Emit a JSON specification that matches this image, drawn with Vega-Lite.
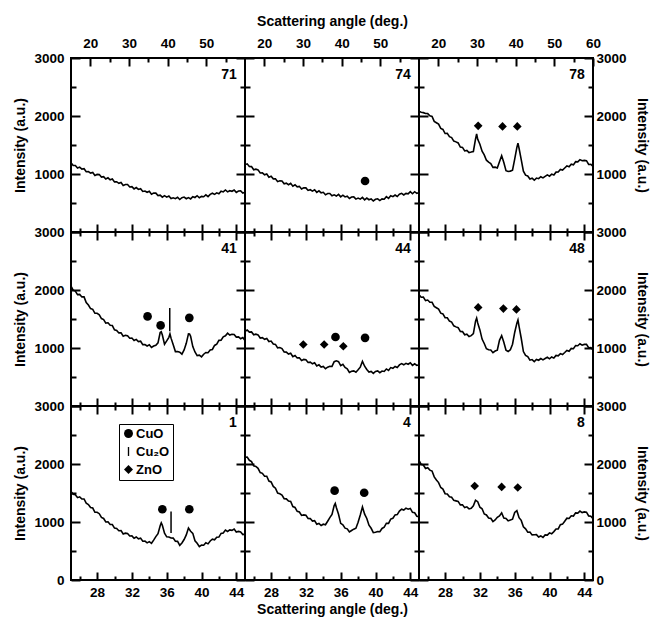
{
"$schema": "https://vega.github.io/schema/vega-lite/v6.json",
"padding": {"left": 12, "top": 13, "right": 0, "bottom": 0},
"config": {
  "font": "Liberation Sans",
  "view": {"stroke": "black", "strokeWidth": 2},
  "axis": {"domain": false, "grid": false, "tickColor": "black", "tickWidth": 2, "labelColor": "black", "labelFont": "Liberation Sans", "labelFontSize": 13.5, "labelFontWeight": "bold", "titleColor": "black", "titleFont": "Liberation Sans", "titleFontSize": 14, "titleFontWeight": "bold", "labelFlush": false, "labelOverlap": false, "minExtent": 0},
  "text": {"font": "Liberation Sans"}
},
"datasets": {
"c71": [{"a":25,"i":1193},{"a":25.25,"i":1146},{"a":25.5,"i":1146},{"a":25.75,"i":1102},{"a":26,"i":1119},{"a":26.25,"i":1084},{"a":26.5,"i":1092},{"a":26.75,"i":1039},{"a":27,"i":1042},{"a":27.25,"i":1015},{"a":27.5,"i":1026},{"a":27.75,"i":976},{"a":28,"i":993},{"a":28.25,"i":990},{"a":28.5,"i":948},{"a":28.75,"i":954},{"a":29,"i":915},{"a":29.25,"i":934},{"a":29.5,"i":901},{"a":29.75,"i":914},{"a":30,"i":864},{"a":30.25,"i":867},{"a":30.5,"i":840},{"a":30.75,"i":854},{"a":31,"i":803},{"a":31.25,"i":820},{"a":31.5,"i":818},{"a":31.75,"i":776},{"a":32,"i":781},{"a":32.25,"i":743},{"a":32.5,"i":766},{"a":32.75,"i":734},{"a":33,"i":747},{"a":33.25,"i":699},{"a":33.5,"i":707},{"a":33.75,"i":685},{"a":34,"i":701},{"a":34.25,"i":653},{"a":34.5,"i":673},{"a":34.75,"i":670},{"a":35,"i":628},{"a":35.25,"i":636},{"a":35.5,"i":600},{"a":35.75,"i":626},{"a":36,"i":601},{"a":36.25,"i":620},{"a":36.5,"i":576},{"a":36.75,"i":590},{"a":37,"i":575},{"a":37.25,"i":599},{"a":37.5,"i":560},{"a":37.75,"i":591},{"a":38,"i":602},{"a":38.25,"i":574},{"a":38.5,"i":594},{"a":38.75,"i":571},{"a":39,"i":609},{"a":39.25,"i":595},{"a":39.5,"i":625},{"a":39.75,"i":591},{"a":40,"i":614},{"a":40.25,"i":608},{"a":40.5,"i":640},{"a":40.75,"i":610},{"a":41,"i":648},{"a":41.25,"i":668},{"a":41.5,"i":648},{"a":41.75,"i":676},{"a":42,"i":660},{"a":42.25,"i":702},{"a":42.5,"i":691},{"a":42.75,"i":724},{"a":43,"i":692},{"a":43.25,"i":712},{"a":43.5,"i":702},{"a":43.75,"i":724},{"a":44,"i":683},{"a":44.25,"i":706},{"a":44.5,"i":708},{"a":44.75,"i":673},{"a":45,"i":686}],
"c74": [{"a":25,"i":1161},{"a":25.25,"i":1175},{"a":25.5,"i":1129},{"a":25.75,"i":1127},{"a":26,"i":1073},{"a":26.25,"i":1083},{"a":26.5,"i":1071},{"a":26.75,"i":1017},{"a":27,"i":1019},{"a":27.25,"i":985},{"a":27.5,"i":999},{"a":27.75,"i":944},{"a":28,"i":960},{"a":28.25,"i":916},{"a":28.5,"i":917},{"a":28.75,"i":868},{"a":29,"i":883},{"a":29.25,"i":878},{"a":29.5,"i":832},{"a":29.75,"i":842},{"a":30,"i":815},{"a":30.25,"i":839},{"a":30.5,"i":791},{"a":30.75,"i":815},{"a":31,"i":779},{"a":31.25,"i":787},{"a":31.5,"i":743},{"a":31.75,"i":763},{"a":32,"i":761},{"a":32.25,"i":717},{"a":32.5,"i":729},{"a":32.75,"i":705},{"a":33,"i":729},{"a":33.25,"i":684},{"a":33.5,"i":710},{"a":33.75,"i":675},{"a":34,"i":684},{"a":34.25,"i":641},{"a":34.5,"i":663},{"a":34.75,"i":664},{"a":35,"i":624},{"a":35.25,"i":640},{"a":35.5,"i":620},{"a":35.75,"i":649},{"a":36,"i":606},{"a":36.25,"i":635},{"a":36.5,"i":604},{"a":36.75,"i":617},{"a":37,"i":578},{"a":37.25,"i":603},{"a":37.5,"i":606},{"a":37.75,"i":567},{"a":38,"i":584},{"a":38.25,"i":566},{"a":38.5,"i":596},{"a":38.75,"i":554},{"a":39,"i":585},{"a":39.25,"i":556},{"a":39.5,"i":572},{"a":39.75,"i":535},{"a":40,"i":563},{"a":40.25,"i":573},{"a":40.5,"i":542},{"a":40.75,"i":571},{"a":41,"i":565},{"a":41.25,"i":609},{"a":41.5,"i":581},{"a":41.75,"i":625},{"a":42,"i":609},{"a":42.25,"i":637},{"a":42.5,"i":613},{"a":42.75,"i":650},{"a":43,"i":666},{"a":43.25,"i":638},{"a":43.5,"i":666},{"a":43.75,"i":657},{"a":44,"i":696},{"a":44.25,"i":660},{"a":44.5,"i":695},{"a":44.75,"i":666},{"a":45,"i":682}],
"c78": [{"a":25,"i":2080},{"a":25.25,"i":2065},{"a":25.5,"i":2058},{"a":25.75,"i":2043},{"a":26,"i":2042},{"a":26.25,"i":2004},{"a":26.5,"i":1993},{"a":26.75,"i":1908},{"a":27,"i":1884},{"a":27.25,"i":1860},{"a":27.5,"i":1785},{"a":27.75,"i":1768},{"a":28,"i":1698},{"a":28.25,"i":1702},{"a":28.5,"i":1644},{"a":28.75,"i":1628},{"a":29,"i":1568},{"a":29.25,"i":1554},{"a":29.5,"i":1535},{"a":29.75,"i":1465},{"a":30,"i":1458},{"a":30.25,"i":1398},{"a":30.5,"i":1407},{"a":30.75,"i":1369},{"a":31,"i":1378},{"a":31.25,"i":1388},{"a":31.5,"i":1604},{"a":31.625,"i":1690},{"a":31.75,"i":1598},{"a":32,"i":1512},{"a":32.25,"i":1394},{"a":32.5,"i":1328},{"a":32.75,"i":1238},{"a":33,"i":1204},{"a":33.25,"i":1180},{"a":33.5,"i":1115},{"a":33.75,"i":1118},{"a":34,"i":1103},{"a":34.25,"i":1212},{"a":34.5,"i":1314},{"a":34.75,"i":1198},{"a":35,"i":1058},{"a":35.25,"i":1044},{"a":35.5,"i":1050},{"a":35.75,"i":1065},{"a":36,"i":1258},{"a":36.25,"i":1458},{"a":36.375,"i":1532},{"a":36.5,"i":1444},{"a":36.75,"i":1248},{"a":37,"i":1048},{"a":37.25,"i":979},{"a":37.5,"i":965},{"a":37.75,"i":915},{"a":38,"i":928},{"a":38.25,"i":893},{"a":38.5,"i":930},{"a":38.75,"i":919},{"a":39,"i":953},{"a":39.25,"i":933},{"a":39.5,"i":959},{"a":39.75,"i":985},{"a":40,"i":963},{"a":40.25,"i":998},{"a":40.5,"i":983},{"a":40.75,"i":1032},{"a":41,"i":1034},{"a":41.25,"i":1078},{"a":41.5,"i":1068},{"a":41.75,"i":1104},{"a":42,"i":1140},{"a":42.25,"i":1125},{"a":42.5,"i":1168},{"a":42.75,"i":1158},{"a":43,"i":1212},{"a":43.25,"i":1209},{"a":43.5,"i":1248},{"a":43.75,"i":1228},{"a":44,"i":1234},{"a":44.25,"i":1230},{"a":44.5,"i":1165},{"a":44.75,"i":1168},{"a":45,"i":1128}],
"c41": [{"a":25,"i":2068},{"a":25.25,"i":1998},{"a":25.5,"i":1981},{"a":25.75,"i":1920},{"a":26,"i":1924},{"a":26.25,"i":1881},{"a":26.5,"i":1882},{"a":26.75,"i":1784},{"a":27,"i":1742},{"a":27.25,"i":1680},{"a":27.5,"i":1666},{"a":27.75,"i":1598},{"a":28,"i":1598},{"a":28.25,"i":1573},{"a":28.5,"i":1508},{"a":28.75,"i":1491},{"a":29,"i":1430},{"a":29.25,"i":1434},{"a":29.5,"i":1391},{"a":29.75,"i":1387},{"a":30,"i":1314},{"a":30.25,"i":1302},{"a":30.5,"i":1260},{"a":30.75,"i":1261},{"a":31,"i":1203},{"a":31.25,"i":1218},{"a":31.5,"i":1213},{"a":31.75,"i":1168},{"a":32,"i":1171},{"a":32.25,"i":1130},{"a":32.5,"i":1149},{"a":32.75,"i":1111},{"a":33,"i":1117},{"a":33.25,"i":1059},{"a":33.5,"i":1060},{"a":33.75,"i":1035},{"a":34,"i":1054},{"a":34.25,"i":1008},{"a":34.5,"i":1033},{"a":34.75,"i":1048},{"a":35,"i":1088},{"a":35.25,"i":1266},{"a":35.375,"i":1280},{"a":35.5,"i":1224},{"a":35.75,"i":1066},{"a":36,"i":1122},{"a":36.25,"i":1184},{"a":36.375,"i":1242},{"a":36.5,"i":1170},{"a":36.75,"i":1056},{"a":37,"i":938},{"a":37.25,"i":938},{"a":37.5,"i":928},{"a":37.75,"i":893},{"a":38,"i":966},{"a":38.25,"i":1080},{"a":38.5,"i":1244},{"a":38.625,"i":1241},{"a":38.75,"i":1202},{"a":39,"i":1024},{"a":39.25,"i":932},{"a":39.5,"i":870},{"a":39.75,"i":876},{"a":40,"i":848},{"a":40.25,"i":893},{"a":40.5,"i":923},{"a":40.75,"i":918},{"a":41,"i":966},{"a":41.25,"i":975},{"a":41.5,"i":1044},{"a":41.75,"i":1066},{"a":42,"i":1132},{"a":42.25,"i":1134},{"a":42.5,"i":1192},{"a":42.75,"i":1210},{"a":43,"i":1256},{"a":43.25,"i":1223},{"a":43.5,"i":1238},{"a":43.75,"i":1233},{"a":44,"i":1188},{"a":44.25,"i":1191},{"a":44.5,"i":1160},{"a":44.75,"i":1182},{"a":45,"i":1128}],
"c44": [{"a":25,"i":1286},{"a":25.25,"i":1310},{"a":25.5,"i":1274},{"a":25.75,"i":1277},{"a":26,"i":1228},{"a":26.25,"i":1238},{"a":26.5,"i":1226},{"a":26.75,"i":1172},{"a":27,"i":1179},{"a":27.25,"i":1150},{"a":27.5,"i":1164},{"a":27.75,"i":1111},{"a":28,"i":1120},{"a":28.25,"i":1069},{"a":28.5,"i":1062},{"a":28.75,"i":1003},{"a":29,"i":1008},{"a":29.25,"i":991},{"a":29.5,"i":932},{"a":29.75,"i":929},{"a":30,"i":895},{"a":30.25,"i":909},{"a":30.5,"i":851},{"a":30.75,"i":870},{"a":31,"i":829},{"a":31.25,"i":832},{"a":31.5,"i":783},{"a":31.75,"i":803},{"a":32,"i":798},{"a":32.25,"i":750},{"a":32.5,"i":756},{"a":32.75,"i":728},{"a":33,"i":746},{"a":33.25,"i":691},{"a":33.5,"i":710},{"a":33.75,"i":672},{"a":34,"i":682},{"a":34.25,"i":643},{"a":34.5,"i":670},{"a":34.75,"i":686},{"a":35,"i":682},{"a":35.25,"i":764},{"a":35.5,"i":780},{"a":35.75,"i":764},{"a":36,"i":696},{"a":36.25,"i":720},{"a":36.5,"i":664},{"a":36.75,"i":642},{"a":37,"i":578},{"a":37.25,"i":598},{"a":37.5,"i":606},{"a":37.75,"i":582},{"a":38,"i":624},{"a":38.25,"i":670},{"a":38.5,"i":770},{"a":38.75,"i":686},{"a":39,"i":630},{"a":39.25,"i":584},{"a":39.5,"i":597},{"a":39.75,"i":563},{"a":40,"i":596},{"a":40.25,"i":606},{"a":40.5,"i":574},{"a":40.75,"i":602},{"a":41,"i":595},{"a":41.25,"i":639},{"a":41.5,"i":614},{"a":41.75,"i":662},{"a":42,"i":650},{"a":42.25,"i":682},{"a":42.5,"i":663},{"a":42.75,"i":708},{"a":43,"i":731},{"a":43.25,"i":710},{"a":43.5,"i":736},{"a":43.75,"i":720},{"a":44,"i":746},{"a":44.25,"i":701},{"a":44.5,"i":728},{"a":44.75,"i":699},{"a":45,"i":712}],
"c48": [{"a":25,"i":1920},{"a":25.25,"i":1875},{"a":25.5,"i":1878},{"a":25.75,"i":1818},{"a":26,"i":1827},{"a":26.25,"i":1789},{"a":26.5,"i":1788},{"a":26.75,"i":1718},{"a":27,"i":1694},{"a":27.25,"i":1670},{"a":27.5,"i":1600},{"a":27.75,"i":1588},{"a":28,"i":1523},{"a":28.25,"i":1522},{"a":28.5,"i":1464},{"a":28.75,"i":1448},{"a":29,"i":1383},{"a":29.25,"i":1364},{"a":29.5,"i":1350},{"a":29.75,"i":1285},{"a":30,"i":1283},{"a":30.25,"i":1228},{"a":30.5,"i":1237},{"a":30.75,"i":1199},{"a":31,"i":1213},{"a":31.25,"i":1248},{"a":31.5,"i":1464},{"a":31.625,"i":1515},{"a":31.75,"i":1432},{"a":32,"i":1312},{"a":32.25,"i":1154},{"a":32.5,"i":1078},{"a":32.75,"i":988},{"a":33,"i":969},{"a":33.25,"i":965},{"a":33.5,"i":920},{"a":33.75,"i":948},{"a":34,"i":963},{"a":34.25,"i":1132},{"a":34.5,"i":1214},{"a":34.75,"i":1098},{"a":35,"i":963},{"a":35.25,"i":939},{"a":35.5,"i":970},{"a":35.75,"i":1065},{"a":36,"i":1268},{"a":36.25,"i":1428},{"a":36.375,"i":1482},{"a":36.5,"i":1374},{"a":36.75,"i":1168},{"a":37,"i":938},{"a":37.25,"i":874},{"a":37.5,"i":850},{"a":37.75,"i":790},{"a":38,"i":800},{"a":38.25,"i":766},{"a":38.5,"i":802},{"a":38.75,"i":789},{"a":39,"i":818},{"a":39.25,"i":796},{"a":39.5,"i":819},{"a":39.75,"i":840},{"a":40,"i":813},{"a":40.25,"i":846},{"a":40.5,"i":826},{"a":40.75,"i":872},{"a":41,"i":866},{"a":41.25,"i":903},{"a":41.5,"i":888},{"a":41.75,"i":922},{"a":42,"i":958},{"a":42.25,"i":945},{"a":42.5,"i":993},{"a":42.75,"i":988},{"a":43,"i":1042},{"a":43.25,"i":1039},{"a":43.5,"i":1073},{"a":43.75,"i":1048},{"a":44,"i":1062},{"a":44.25,"i":1065},{"a":44.5,"i":1005},{"a":44.75,"i":1008},{"a":45,"i":968}],
"c1": [{"a":25,"i":1528},{"a":25.25,"i":1478},{"a":25.5,"i":1471},{"a":25.75,"i":1420},{"a":26,"i":1434},{"a":26.25,"i":1396},{"a":26.5,"i":1397},{"a":26.75,"i":1324},{"a":27,"i":1302},{"a":27.25,"i":1250},{"a":27.5,"i":1241},{"a":27.75,"i":1168},{"a":28,"i":1168},{"a":28.25,"i":1143},{"a":28.5,"i":1078},{"a":28.75,"i":1061},{"a":29,"i":1000},{"a":29.25,"i":1004},{"a":29.5,"i":956},{"a":29.75,"i":957},{"a":30,"i":894},{"a":30.25,"i":887},{"a":30.5,"i":850},{"a":30.75,"i":851},{"a":31,"i":793},{"a":31.25,"i":808},{"a":31.5,"i":803},{"a":31.75,"i":758},{"a":32,"i":761},{"a":32.25,"i":720},{"a":32.5,"i":742},{"a":32.75,"i":711},{"a":33,"i":722},{"a":33.25,"i":669},{"a":33.5,"i":670},{"a":33.75,"i":640},{"a":34,"i":661},{"a":34.25,"i":633},{"a":34.5,"i":688},{"a":34.75,"i":748},{"a":35,"i":798},{"a":35.25,"i":936},{"a":35.375,"i":985},{"a":35.5,"i":944},{"a":35.75,"i":806},{"a":36,"i":744},{"a":36.25,"i":742},{"a":36.5,"i":724},{"a":36.75,"i":722},{"a":37,"i":670},{"a":37.25,"i":666},{"a":37.5,"i":598},{"a":37.75,"i":638},{"a":38,"i":698},{"a":38.25,"i":778},{"a":38.5,"i":896},{"a":38.75,"i":840},{"a":39,"i":804},{"a":39.25,"i":676},{"a":39.5,"i":632},{"a":39.75,"i":574},{"a":40,"i":602},{"a":40.25,"i":600},{"a":40.5,"i":641},{"a":40.75,"i":623},{"a":41,"i":673},{"a":41.25,"i":703},{"a":41.5,"i":693},{"a":41.75,"i":736},{"a":42,"i":740},{"a":42.25,"i":804},{"a":42.5,"i":811},{"a":42.75,"i":860},{"a":43,"i":836},{"a":43.25,"i":864},{"a":43.5,"i":856},{"a":43.75,"i":878},{"a":44,"i":828},{"a":44.25,"i":838},{"a":44.5,"i":828},{"a":44.75,"i":783},{"a":45,"i":791}],
"c4": [{"a":25,"i":2116},{"a":25.25,"i":2120},{"a":25.5,"i":2064},{"a":25.75,"i":2042},{"a":26,"i":1968},{"a":26.25,"i":1958},{"a":26.5,"i":1926},{"a":26.75,"i":1852},{"a":27,"i":1839},{"a":27.25,"i":1790},{"a":27.5,"i":1789},{"a":27.75,"i":1706},{"a":28,"i":1690},{"a":28.25,"i":1614},{"a":28.5,"i":1582},{"a":28.75,"i":1498},{"a":29,"i":1488},{"a":29.25,"i":1466},{"a":29.5,"i":1402},{"a":29.75,"i":1399},{"a":30,"i":1360},{"a":30.25,"i":1354},{"a":30.5,"i":1266},{"a":30.75,"i":1250},{"a":31,"i":1184},{"a":31.25,"i":1172},{"a":31.5,"i":1113},{"a":31.75,"i":1123},{"a":32,"i":1116},{"a":32.25,"i":1062},{"a":32.5,"i":1059},{"a":32.75,"i":1015},{"a":33,"i":1024},{"a":33.25,"i":961},{"a":33.5,"i":975},{"a":33.75,"i":939},{"a":34,"i":962},{"a":34.25,"i":953},{"a":34.5,"i":1013},{"a":34.75,"i":1076},{"a":35,"i":1132},{"a":35.25,"i":1284},{"a":35.375,"i":1320},{"a":35.5,"i":1250},{"a":35.75,"i":1134},{"a":36,"i":976},{"a":36.25,"i":950},{"a":36.5,"i":894},{"a":36.75,"i":882},{"a":37,"i":828},{"a":37.25,"i":853},{"a":37.5,"i":876},{"a":37.75,"i":892},{"a":38,"i":994},{"a":38.25,"i":1120},{"a":38.5,"i":1260},{"a":38.75,"i":1136},{"a":39,"i":1060},{"a":39.25,"i":944},{"a":39.5,"i":892},{"a":39.75,"i":818},{"a":40,"i":823},{"a":40.25,"i":836},{"a":40.5,"i":832},{"a":40.75,"i":889},{"a":41,"i":910},{"a":41.25,"i":979},{"a":41.5,"i":976},{"a":41.75,"i":1050},{"a":42,"i":1064},{"a":42.25,"i":1122},{"a":42.5,"i":1128},{"a":42.75,"i":1188},{"a":43,"i":1221},{"a":43.25,"i":1207},{"a":43.5,"i":1239},{"a":43.75,"i":1220},{"a":44,"i":1234},{"a":44.25,"i":1166},{"a":44.5,"i":1160},{"a":44.75,"i":1099},{"a":45,"i":1092}],
"c8": [{"a":25,"i":2060},{"a":25.25,"i":1995},{"a":25.5,"i":1983},{"a":25.75,"i":1923},{"a":26,"i":1937},{"a":26.25,"i":1894},{"a":26.5,"i":1878},{"a":26.75,"i":1778},{"a":27,"i":1724},{"a":27.25,"i":1680},{"a":27.5,"i":1595},{"a":27.75,"i":1568},{"a":28,"i":1488},{"a":28.25,"i":1482},{"a":28.5,"i":1434},{"a":28.75,"i":1428},{"a":29,"i":1373},{"a":29.25,"i":1364},{"a":29.5,"i":1355},{"a":29.75,"i":1295},{"a":30,"i":1298},{"a":30.25,"i":1248},{"a":30.5,"i":1262},{"a":30.75,"i":1226},{"a":31,"i":1238},{"a":31.25,"i":1278},{"a":31.5,"i":1374},{"a":31.75,"i":1350},{"a":32,"i":1255},{"a":32.25,"i":1228},{"a":32.5,"i":1138},{"a":32.75,"i":1122},{"a":33,"i":1069},{"a":33.25,"i":1063},{"a":33.5,"i":1008},{"a":33.75,"i":1034},{"a":34,"i":1080},{"a":34.25,"i":1105},{"a":34.5,"i":1158},{"a":34.75,"i":1068},{"a":35,"i":1062},{"a":35.25,"i":1019},{"a":35.5,"i":1033},{"a":35.75,"i":1048},{"a":36,"i":1164},{"a":36.25,"i":1195},{"a":36.5,"i":1075},{"a":36.75,"i":1028},{"a":37,"i":918},{"a":37.25,"i":882},{"a":37.5,"i":824},{"a":37.75,"i":828},{"a":38,"i":778},{"a":38.25,"i":779},{"a":38.5,"i":782},{"a":38.75,"i":740},{"a":39,"i":760},{"a":39.25,"i":733},{"a":39.5,"i":777},{"a":39.75,"i":774},{"a":40,"i":813},{"a":40.25,"i":798},{"a":40.5,"i":834},{"a":40.75,"i":880},{"a":41,"i":880},{"a":41.25,"i":953},{"a":41.5,"i":963},{"a":41.75,"i":1014},{"a":42,"i":1065},{"a":42.25,"i":1060},{"a":42.5,"i":1108},{"a":42.75,"i":1103},{"a":43,"i":1157},{"a":43.25,"i":1154},{"a":43.5,"i":1188},{"a":43.75,"i":1163},{"a":44,"i":1174},{"a":44.25,"i":1170},{"a":44.5,"i":1105},{"a":44.75,"i":1098},{"a":45,"i":1058}]
},
"columns": 3,
"spacing": 0,
"bounds": "flush",
"resolve": {"scale": {"shape": "independent"}, "legend": {"shape": "independent"}},
"concat": [
{"width":174,"height":174,"resolve":{"scale":{"x":"independent","y":"independent"}},"layer":[
 {"data":{"name":"c71"},"mark":{"type":"line","color":"black","strokeWidth":1.6},"encoding":{
  "x":{"field":"a","type":"quantitative","scale":{"domain":[25,45],"nice":false,"zero":false},"axis":{"orient":"bottom","values":[26,28,30,32,34,36,38,40,42,44],"tickSize":{"condition":{"test":"datum.value % 4 === 0","value":-8},"value":-4},"labels":false,"title":null,"maxExtent":0}},
  "y":{"field":"i","type":"quantitative","scale":{"domain":[0,3000],"nice":false,"zero":false},"axis":{"orient":"left","values":[0,500,1000,1500,2000,2500,3000],"tickSize":{"condition":{"test":"datum.value % 1000 === 0","value":-9},"value":-5},"format":"d","labelExpr":"datum.value % 1000 === 0 && datum.value > 0 ? datum.label : ''","labelPadding":16,"title":"Intensity (a.u.)","titlePadding":6}}}},
 {"data":{"values":[{"p":"71"}]},"mark":{"type":"text","align":"right","baseline":"middle","fontSize":14,"fontWeight":"bold","color":"black"},"encoding":{
  "x":{"datum":44.05,"type":"quantitative","scale":{"domain":[25,45],"nice":false,"zero":false},"axis":null},
  "y":{"datum":2700,"type":"quantitative","scale":{"domain":[0,3000],"nice":false,"zero":false},"axis":null},
  "text":{"field":"p"}}},
 {"data":{"values":[{"t":40,"i":1500}]},"mark":{"type":"point","opacity":0,"size":0},"encoding":{
  "x":{"field":"t","type":"quantitative","scale":{"domain":[15,60],"nice":false,"zero":false},"axis":{"orient":"top","values":[20,25,30,35,40,45,50,55],"tickSize":{"condition":{"test":"datum.value % 10 === 0","value":-8},"value":-4},"labelExpr":"datum.value % 10 === 0 ? datum.label : ''","labelPadding":16,"title":null}},
  "y":{"field":"i","type":"quantitative","scale":{"domain":[0,3000],"nice":false,"zero":false},"axis":{"orient":"right","values":[0,500,1000,1500,2000,2500,3000],"tickSize":{"condition":{"test":"datum.value % 1000 === 0","value":-9},"value":-5},"labels":false,"title":null,"maxExtent":0}}}}
]},
{"width":174,"height":174,"resolve":{"scale":{"x":"independent","y":"independent"}},"layer":[
 {"data":{"name":"c74"},"mark":{"type":"line","color":"black","strokeWidth":1.6},"encoding":{
  "x":{"field":"a","type":"quantitative","scale":{"domain":[25,45],"nice":false,"zero":false},"axis":{"orient":"bottom","values":[26,28,30,32,34,36,38,40,42,44],"tickSize":{"condition":{"test":"datum.value % 4 === 0","value":-8},"value":-4},"labels":false,"title":null,"maxExtent":0}},
  "y":{"field":"i","type":"quantitative","scale":{"domain":[0,3000],"nice":false,"zero":false},"axis":{"orient":"left","values":[0,500,1000,1500,2000,2500,3000],"tickSize":{"condition":{"test":"datum.value % 1000 === 0","value":-9},"value":-5},"labels":false,"title":null,"maxExtent":0}}}},
 {"data":{"values":[{"a":38.8,"i":880,"m":"CuO"}]},"mark":{"type":"point","filled":true,"color":"black","size":75,"opacity":1},"encoding":{
  "x":{"field":"a","type":"quantitative","scale":{"domain":[25,45],"nice":false,"zero":false},"axis":null},
  "y":{"field":"i","type":"quantitative","scale":{"domain":[0,3000],"nice":false,"zero":false},"axis":null},
  "shape":{"field":"m","type":"nominal","scale":{"domain":["CuO","Cu₂O","ZnO"],"range":["circle","M-0.15,-1H0.15V1H-0.15Z","diamond"]},"legend":null}}},
 {"data":{"values":[{"p":"74"}]},"mark":{"type":"text","align":"right","baseline":"middle","fontSize":14,"fontWeight":"bold","color":"black"},"encoding":{
  "x":{"datum":44.05,"type":"quantitative","scale":{"domain":[25,45],"nice":false,"zero":false},"axis":null},
  "y":{"datum":2700,"type":"quantitative","scale":{"domain":[0,3000],"nice":false,"zero":false},"axis":null},
  "text":{"field":"p"}}},
 {"data":{"values":[{"t":40,"i":1500}]},"mark":{"type":"point","opacity":0,"size":0},"encoding":{
  "x":{"field":"t","type":"quantitative","scale":{"domain":[15,60],"nice":false,"zero":false},"axis":{"orient":"top","values":[20,25,30,35,40,45,50,55],"tickSize":{"condition":{"test":"datum.value % 10 === 0","value":-8},"value":-4},"labelExpr":"datum.value % 10 === 0 ? datum.label : ''","labelPadding":16,"title":"Scattering angle (deg.)","titlePadding":4}},
  "y":{"field":"i","type":"quantitative","scale":{"domain":[0,3000],"nice":false,"zero":false},"axis":{"orient":"right","values":[0,500,1000,1500,2000,2500,3000],"tickSize":{"condition":{"test":"datum.value % 1000 === 0","value":-9},"value":-5},"labels":false,"title":null,"maxExtent":0}}}}
]},
{"width":174,"height":174,"resolve":{"scale":{"x":"independent","y":"independent"}},"layer":[
 {"data":{"name":"c78"},"mark":{"type":"line","color":"black","strokeWidth":1.6},"encoding":{
  "x":{"field":"a","type":"quantitative","scale":{"domain":[25,45],"nice":false,"zero":false},"axis":{"orient":"bottom","values":[26,28,30,32,34,36,38,40,42,44],"tickSize":{"condition":{"test":"datum.value % 4 === 0","value":-8},"value":-4},"labels":false,"title":null,"maxExtent":0}},
  "y":{"field":"i","type":"quantitative","scale":{"domain":[0,3000],"nice":false,"zero":false},"axis":{"orient":"left","values":[0,500,1000,1500,2000,2500,3000],"tickSize":{"condition":{"test":"datum.value % 1000 === 0","value":-9},"value":-5},"labels":false,"title":null,"maxExtent":0}}}},
 {"data":{"values":[{"a":31.8,"i":1830,"m":"ZnO"},{"a":34.6,"i":1820,"m":"ZnO"},{"a":36.3,"i":1820,"m":"ZnO"}]},"mark":{"type":"point","filled":true,"color":"black","size":75,"opacity":1},"encoding":{
  "x":{"field":"a","type":"quantitative","scale":{"domain":[25,45],"nice":false,"zero":false},"axis":null},
  "y":{"field":"i","type":"quantitative","scale":{"domain":[0,3000],"nice":false,"zero":false},"axis":null},
  "shape":{"field":"m","type":"nominal","scale":{"domain":["CuO","Cu₂O","ZnO"],"range":["circle","M-0.15,-1H0.15V1H-0.15Z","diamond"]},"legend":null}}},
 {"data":{"values":[{"p":"78"}]},"mark":{"type":"text","align":"right","baseline":"middle","fontSize":14,"fontWeight":"bold","color":"black"},"encoding":{
  "x":{"datum":44.05,"type":"quantitative","scale":{"domain":[25,45],"nice":false,"zero":false},"axis":null},
  "y":{"datum":2700,"type":"quantitative","scale":{"domain":[0,3000],"nice":false,"zero":false},"axis":null},
  "text":{"field":"p"}}},
 {"data":{"values":[{"t":40,"i":1500}]},"mark":{"type":"point","opacity":0,"size":0},"encoding":{
  "x":{"field":"t","type":"quantitative","scale":{"domain":[15,60],"nice":false,"zero":false},"axis":{"orient":"top","values":[20,25,30,35,40,45,50,55,60],"tickSize":{"condition":{"test":"datum.value % 10 === 0","value":-8},"value":-4},"labelExpr":"datum.value % 10 === 0 ? datum.label : ''","labelPadding":16,"title":null}},
  "y":{"field":"i","type":"quantitative","scale":{"domain":[0,3000],"nice":false,"zero":false},"axis":{"orient":"right","values":[0,500,1000,1500,2000,2500,3000],"tickSize":{"condition":{"test":"datum.value % 1000 === 0","value":-9},"value":-5},"format":"d","labelExpr":"datum.value % 1000 === 0 && datum.value > 0 ? datum.label : ''","labelPadding":12,"title":"Intensity (a.u.)","titlePadding":8}}}}
]},
{"width":174,"height":174,"resolve":{"scale":{"x":"independent","y":"independent"}},"layer":[
 {"data":{"name":"c41"},"mark":{"type":"line","color":"black","strokeWidth":1.6},"encoding":{
  "x":{"field":"a","type":"quantitative","scale":{"domain":[25,45],"nice":false,"zero":false},"axis":{"orient":"bottom","values":[26,28,30,32,34,36,38,40,42,44],"tickSize":{"condition":{"test":"datum.value % 4 === 0","value":-8},"value":-4},"labels":false,"title":null,"maxExtent":0}},
  "y":{"field":"i","type":"quantitative","scale":{"domain":[0,3000],"nice":false,"zero":false},"axis":{"orient":"left","values":[0,500,1000,1500,2000,2500,3000],"tickSize":{"condition":{"test":"datum.value % 1000 === 0","value":-9},"value":-5},"format":"d","labelExpr":"datum.value % 1000 === 0 && datum.value > 0 ? datum.label : ''","labelPadding":16,"title":"Intensity (a.u.)","titlePadding":6}}}},
 {"data":{"values":[{"a":33.8,"i":1545,"m":"CuO"},{"a":35.3,"i":1390,"m":"CuO"},{"a":38.6,"i":1520,"m":"CuO"}]},"mark":{"type":"point","filled":true,"color":"black","size":75,"opacity":1},"encoding":{
  "x":{"field":"a","type":"quantitative","scale":{"domain":[25,45],"nice":false,"zero":false},"axis":null},
  "y":{"field":"i","type":"quantitative","scale":{"domain":[0,3000],"nice":false,"zero":false},"axis":null},
  "shape":{"field":"m","type":"nominal","scale":{"domain":["CuO","Cu₂O","ZnO"],"range":["circle","M-0.15,-1H0.15V1H-0.15Z","diamond"]},"legend":null}}},
 {"data":{"values":[{"a":36.35,"i":1290,"i2":1690}]},"mark":{"type":"rule","color":"black","strokeWidth":1.5},"encoding":{
  "x":{"field":"a","type":"quantitative","scale":{"domain":[25,45],"nice":false,"zero":false},"axis":null},
  "y":{"field":"i","type":"quantitative","scale":{"domain":[0,3000],"nice":false,"zero":false},"axis":null},
  "y2":{"field":"i2"}}},
 {"data":{"values":[{"p":"41"}]},"mark":{"type":"text","align":"right","baseline":"middle","fontSize":14,"fontWeight":"bold","color":"black"},"encoding":{
  "x":{"datum":44.05,"type":"quantitative","scale":{"domain":[25,45],"nice":false,"zero":false},"axis":null},
  "y":{"datum":2700,"type":"quantitative","scale":{"domain":[0,3000],"nice":false,"zero":false},"axis":null},
  "text":{"field":"p"}}},
 {"data":{"values":[{"t":35,"i":1500}]},"mark":{"type":"point","opacity":0,"size":0},"encoding":{
  "x":{"field":"t","type":"quantitative","scale":{"domain":[25,45],"nice":false,"zero":false},"axis":{"orient":"top","values":[26,28,30,32,34,36,38,40,42,44],"tickSize":{"condition":{"test":"datum.value % 4 === 0","value":-8},"value":-4},"labels":false,"title":null,"maxExtent":0}},
  "y":{"field":"i","type":"quantitative","scale":{"domain":[0,3000],"nice":false,"zero":false},"axis":{"orient":"right","values":[0,500,1000,1500,2000,2500,3000],"tickSize":{"condition":{"test":"datum.value % 1000 === 0","value":-9},"value":-5},"labels":false,"title":null,"maxExtent":0}}}}
]},
{"width":174,"height":174,"resolve":{"scale":{"x":"independent","y":"independent"}},"layer":[
 {"data":{"name":"c44"},"mark":{"type":"line","color":"black","strokeWidth":1.6},"encoding":{
  "x":{"field":"a","type":"quantitative","scale":{"domain":[25,45],"nice":false,"zero":false},"axis":{"orient":"bottom","values":[26,28,30,32,34,36,38,40,42,44],"tickSize":{"condition":{"test":"datum.value % 4 === 0","value":-8},"value":-4},"labels":false,"title":null,"maxExtent":0}},
  "y":{"field":"i","type":"quantitative","scale":{"domain":[0,3000],"nice":false,"zero":false},"axis":{"orient":"left","values":[0,500,1000,1500,2000,2500,3000],"tickSize":{"condition":{"test":"datum.value % 1000 === 0","value":-9},"value":-5},"labels":false,"title":null,"maxExtent":0}}}},
 {"data":{"values":[{"a":31.7,"i":1060,"m":"ZnO"},{"a":34.1,"i":1060,"m":"ZnO"},{"a":35.4,"i":1190,"m":"CuO"},{"a":36.3,"i":1030,"m":"ZnO"},{"a":38.8,"i":1175,"m":"CuO"}]},"mark":{"type":"point","filled":true,"color":"black","size":75,"opacity":1},"encoding":{
  "x":{"field":"a","type":"quantitative","scale":{"domain":[25,45],"nice":false,"zero":false},"axis":null},
  "y":{"field":"i","type":"quantitative","scale":{"domain":[0,3000],"nice":false,"zero":false},"axis":null},
  "shape":{"field":"m","type":"nominal","scale":{"domain":["CuO","Cu₂O","ZnO"],"range":["circle","M-0.15,-1H0.15V1H-0.15Z","diamond"]},"legend":null}}},
 {"data":{"values":[{"p":"44"}]},"mark":{"type":"text","align":"right","baseline":"middle","fontSize":14,"fontWeight":"bold","color":"black"},"encoding":{
  "x":{"datum":44.05,"type":"quantitative","scale":{"domain":[25,45],"nice":false,"zero":false},"axis":null},
  "y":{"datum":2700,"type":"quantitative","scale":{"domain":[0,3000],"nice":false,"zero":false},"axis":null},
  "text":{"field":"p"}}},
 {"data":{"values":[{"t":35,"i":1500}]},"mark":{"type":"point","opacity":0,"size":0},"encoding":{
  "x":{"field":"t","type":"quantitative","scale":{"domain":[25,45],"nice":false,"zero":false},"axis":{"orient":"top","values":[26,28,30,32,34,36,38,40,42,44],"tickSize":{"condition":{"test":"datum.value % 4 === 0","value":-8},"value":-4},"labels":false,"title":null,"maxExtent":0}},
  "y":{"field":"i","type":"quantitative","scale":{"domain":[0,3000],"nice":false,"zero":false},"axis":{"orient":"right","values":[0,500,1000,1500,2000,2500,3000],"tickSize":{"condition":{"test":"datum.value % 1000 === 0","value":-9},"value":-5},"labels":false,"title":null,"maxExtent":0}}}}
]},
{"width":174,"height":174,"resolve":{"scale":{"x":"independent","y":"independent"}},"layer":[
 {"data":{"name":"c48"},"mark":{"type":"line","color":"black","strokeWidth":1.6},"encoding":{
  "x":{"field":"a","type":"quantitative","scale":{"domain":[25,45],"nice":false,"zero":false},"axis":{"orient":"bottom","values":[26,28,30,32,34,36,38,40,42,44],"tickSize":{"condition":{"test":"datum.value % 4 === 0","value":-8},"value":-4},"labels":false,"title":null,"maxExtent":0}},
  "y":{"field":"i","type":"quantitative","scale":{"domain":[0,3000],"nice":false,"zero":false},"axis":{"orient":"left","values":[0,500,1000,1500,2000,2500,3000],"tickSize":{"condition":{"test":"datum.value % 1000 === 0","value":-9},"value":-5},"labels":false,"title":null,"maxExtent":0}}}},
 {"data":{"values":[{"a":31.8,"i":1700,"m":"ZnO"},{"a":34.7,"i":1680,"m":"ZnO"},{"a":36.2,"i":1665,"m":"ZnO"}]},"mark":{"type":"point","filled":true,"color":"black","size":75,"opacity":1},"encoding":{
  "x":{"field":"a","type":"quantitative","scale":{"domain":[25,45],"nice":false,"zero":false},"axis":null},
  "y":{"field":"i","type":"quantitative","scale":{"domain":[0,3000],"nice":false,"zero":false},"axis":null},
  "shape":{"field":"m","type":"nominal","scale":{"domain":["CuO","Cu₂O","ZnO"],"range":["circle","M-0.15,-1H0.15V1H-0.15Z","diamond"]},"legend":null}}},
 {"data":{"values":[{"p":"48"}]},"mark":{"type":"text","align":"right","baseline":"middle","fontSize":14,"fontWeight":"bold","color":"black"},"encoding":{
  "x":{"datum":44.05,"type":"quantitative","scale":{"domain":[25,45],"nice":false,"zero":false},"axis":null},
  "y":{"datum":2700,"type":"quantitative","scale":{"domain":[0,3000],"nice":false,"zero":false},"axis":null},
  "text":{"field":"p"}}},
 {"data":{"values":[{"t":35,"i":1500}]},"mark":{"type":"point","opacity":0,"size":0},"encoding":{
  "x":{"field":"t","type":"quantitative","scale":{"domain":[25,45],"nice":false,"zero":false},"axis":{"orient":"top","values":[26,28,30,32,34,36,38,40,42,44],"tickSize":{"condition":{"test":"datum.value % 4 === 0","value":-8},"value":-4},"labels":false,"title":null,"maxExtent":0}},
  "y":{"field":"i","type":"quantitative","scale":{"domain":[0,3000],"nice":false,"zero":false},"axis":{"orient":"right","values":[0,500,1000,1500,2000,2500,3000],"tickSize":{"condition":{"test":"datum.value % 1000 === 0","value":-9},"value":-5},"format":"d","labelExpr":"datum.value % 1000 === 0 && datum.value > 0 ? datum.label : ''","labelPadding":12,"title":"Intensity (a.u.)","titlePadding":8}}}}
]},
{"width":174,"height":174,"resolve":{"scale":{"x":"independent","y":"independent"}},"layer":[
 {"data":{"name":"c1"},"mark":{"type":"line","color":"black","strokeWidth":1.6},"encoding":{
  "x":{"field":"a","type":"quantitative","scale":{"domain":[25,45],"nice":false,"zero":false},"axis":{"orient":"bottom","values":[26,28,30,32,34,36,38,40,42,44],"tickSize":{"condition":{"test":"datum.value % 4 === 0","value":-8},"value":-4},"labelExpr":"datum.value % 4 === 0 ? datum.label : ''","labelPadding":13,"title":null}},
  "y":{"field":"i","type":"quantitative","scale":{"domain":[0,3000],"nice":false,"zero":false},"axis":{"orient":"left","values":[0,500,1000,1500,2000,2500,3000],"tickSize":{"condition":{"test":"datum.value % 1000 === 0","value":-9},"value":-5},"format":"d","labelExpr":"datum.value % 1000 === 0 ? datum.label : ''","labelPadding":16,"title":"Intensity (a.u.)","titlePadding":6}}}},
 {"data":{"values":[{"a":35.5,"i":1220,"m":"CuO"},{"a":38.6,"i":1220,"m":"CuO"}]},"mark":{"type":"point","filled":true,"color":"black","size":75,"opacity":1},"encoding":{
  "x":{"field":"a","type":"quantitative","scale":{"domain":[25,45],"nice":false,"zero":false},"axis":null},
  "y":{"field":"i","type":"quantitative","scale":{"domain":[0,3000],"nice":false,"zero":false},"axis":null},
  "shape":{"field":"m","type":"nominal","scale":{"domain":["CuO","Cu₂O","ZnO"],"range":["circle","M-0.15,-1H0.15V1H-0.15Z","diamond"]},"legend":{"orient":"none","legendX":48,"legendY":18,"title":null,"strokeColor":"black","fillColor":"white","padding":3,"labelFont":"Liberation Sans","labelFontSize":13,"labelFontWeight":"bold","labelColor":"black","symbolSize":80,"symbolFillColor":"black","symbolStrokeColor":"black","symbolStrokeWidth":0,"rowPadding":4,"labelOffset":1}}}},
 {"data":{"values":[{"a":36.5,"i":810,"i2":1180}]},"mark":{"type":"rule","color":"black","strokeWidth":1.5},"encoding":{
  "x":{"field":"a","type":"quantitative","scale":{"domain":[25,45],"nice":false,"zero":false},"axis":null},
  "y":{"field":"i","type":"quantitative","scale":{"domain":[0,3000],"nice":false,"zero":false},"axis":null},
  "y2":{"field":"i2"}}},
 {"data":{"values":[{"p":"1"}]},"mark":{"type":"text","align":"right","baseline":"middle","fontSize":14,"fontWeight":"bold","color":"black"},"encoding":{
  "x":{"datum":44.05,"type":"quantitative","scale":{"domain":[25,45],"nice":false,"zero":false},"axis":null},
  "y":{"datum":2700,"type":"quantitative","scale":{"domain":[0,3000],"nice":false,"zero":false},"axis":null},
  "text":{"field":"p"}}},
 {"data":{"values":[{"t":35,"i":1500}]},"mark":{"type":"point","opacity":0,"size":0},"encoding":{
  "x":{"field":"t","type":"quantitative","scale":{"domain":[25,45],"nice":false,"zero":false},"axis":{"orient":"top","values":[26,28,30,32,34,36,38,40,42,44],"tickSize":{"condition":{"test":"datum.value % 4 === 0","value":-8},"value":-4},"labels":false,"title":null,"maxExtent":0}},
  "y":{"field":"i","type":"quantitative","scale":{"domain":[0,3000],"nice":false,"zero":false},"axis":{"orient":"right","values":[0,500,1000,1500,2000,2500,3000],"tickSize":{"condition":{"test":"datum.value % 1000 === 0","value":-9},"value":-5},"labels":false,"title":null,"maxExtent":0}}}}
]},
{"width":174,"height":174,"resolve":{"scale":{"x":"independent","y":"independent"}},"layer":[
 {"data":{"name":"c4"},"mark":{"type":"line","color":"black","strokeWidth":1.6},"encoding":{
  "x":{"field":"a","type":"quantitative","scale":{"domain":[25,45],"nice":false,"zero":false},"axis":{"orient":"bottom","values":[26,28,30,32,34,36,38,40,42,44],"tickSize":{"condition":{"test":"datum.value % 4 === 0","value":-8},"value":-4},"labelExpr":"datum.value % 4 === 0 ? datum.label : ''","labelPadding":13,"title":"Scattering angle (deg.)","titlePadding":0}},
  "y":{"field":"i","type":"quantitative","scale":{"domain":[0,3000],"nice":false,"zero":false},"axis":{"orient":"left","values":[0,500,1000,1500,2000,2500,3000],"tickSize":{"condition":{"test":"datum.value % 1000 === 0","value":-9},"value":-5},"labels":false,"title":null,"maxExtent":0}}}},
 {"data":{"values":[{"a":35.3,"i":1540,"m":"CuO"},{"a":38.7,"i":1505,"m":"CuO"}]},"mark":{"type":"point","filled":true,"color":"black","size":75,"opacity":1},"encoding":{
  "x":{"field":"a","type":"quantitative","scale":{"domain":[25,45],"nice":false,"zero":false},"axis":null},
  "y":{"field":"i","type":"quantitative","scale":{"domain":[0,3000],"nice":false,"zero":false},"axis":null},
  "shape":{"field":"m","type":"nominal","scale":{"domain":["CuO","Cu₂O","ZnO"],"range":["circle","M-0.15,-1H0.15V1H-0.15Z","diamond"]},"legend":null}}},
 {"data":{"values":[{"p":"4"}]},"mark":{"type":"text","align":"right","baseline":"middle","fontSize":14,"fontWeight":"bold","color":"black"},"encoding":{
  "x":{"datum":44.05,"type":"quantitative","scale":{"domain":[25,45],"nice":false,"zero":false},"axis":null},
  "y":{"datum":2700,"type":"quantitative","scale":{"domain":[0,3000],"nice":false,"zero":false},"axis":null},
  "text":{"field":"p"}}},
 {"data":{"values":[{"t":35,"i":1500}]},"mark":{"type":"point","opacity":0,"size":0},"encoding":{
  "x":{"field":"t","type":"quantitative","scale":{"domain":[25,45],"nice":false,"zero":false},"axis":{"orient":"top","values":[26,28,30,32,34,36,38,40,42,44],"tickSize":{"condition":{"test":"datum.value % 4 === 0","value":-8},"value":-4},"labels":false,"title":null,"maxExtent":0}},
  "y":{"field":"i","type":"quantitative","scale":{"domain":[0,3000],"nice":false,"zero":false},"axis":{"orient":"right","values":[0,500,1000,1500,2000,2500,3000],"tickSize":{"condition":{"test":"datum.value % 1000 === 0","value":-9},"value":-5},"labels":false,"title":null,"maxExtent":0}}}}
]},
{"width":174,"height":174,"resolve":{"scale":{"x":"independent","y":"independent"}},"layer":[
 {"data":{"name":"c8"},"mark":{"type":"line","color":"black","strokeWidth":1.6},"encoding":{
  "x":{"field":"a","type":"quantitative","scale":{"domain":[25,45],"nice":false,"zero":false},"axis":{"orient":"bottom","values":[26,28,30,32,34,36,38,40,42,44],"tickSize":{"condition":{"test":"datum.value % 4 === 0","value":-8},"value":-4},"labelExpr":"datum.value % 4 === 0 ? datum.label : ''","labelPadding":13,"title":null}},
  "y":{"field":"i","type":"quantitative","scale":{"domain":[0,3000],"nice":false,"zero":false},"axis":{"orient":"left","values":[0,500,1000,1500,2000,2500,3000],"tickSize":{"condition":{"test":"datum.value % 1000 === 0","value":-9},"value":-5},"labels":false,"title":null,"maxExtent":0}}}},
 {"data":{"values":[{"a":31.4,"i":1620,"m":"ZnO"},{"a":34.5,"i":1605,"m":"ZnO"},{"a":36.35,"i":1595,"m":"ZnO"}]},"mark":{"type":"point","filled":true,"color":"black","size":75,"opacity":1},"encoding":{
  "x":{"field":"a","type":"quantitative","scale":{"domain":[25,45],"nice":false,"zero":false},"axis":null},
  "y":{"field":"i","type":"quantitative","scale":{"domain":[0,3000],"nice":false,"zero":false},"axis":null},
  "shape":{"field":"m","type":"nominal","scale":{"domain":["CuO","Cu₂O","ZnO"],"range":["circle","M-0.15,-1H0.15V1H-0.15Z","diamond"]},"legend":null}}},
 {"data":{"values":[{"p":"8"}]},"mark":{"type":"text","align":"right","baseline":"middle","fontSize":14,"fontWeight":"bold","color":"black"},"encoding":{
  "x":{"datum":44.05,"type":"quantitative","scale":{"domain":[25,45],"nice":false,"zero":false},"axis":null},
  "y":{"datum":2700,"type":"quantitative","scale":{"domain":[0,3000],"nice":false,"zero":false},"axis":null},
  "text":{"field":"p"}}},
 {"data":{"values":[{"t":35,"i":1500}]},"mark":{"type":"point","opacity":0,"size":0},"encoding":{
  "x":{"field":"t","type":"quantitative","scale":{"domain":[25,45],"nice":false,"zero":false},"axis":{"orient":"top","values":[26,28,30,32,34,36,38,40,42,44],"tickSize":{"condition":{"test":"datum.value % 4 === 0","value":-8},"value":-4},"labels":false,"title":null,"maxExtent":0}},
  "y":{"field":"i","type":"quantitative","scale":{"domain":[0,3000],"nice":false,"zero":false},"axis":{"orient":"right","values":[0,500,1000,1500,2000,2500,3000],"tickSize":{"condition":{"test":"datum.value % 1000 === 0","value":-9},"value":-5},"format":"d","labelExpr":"datum.value % 1000 === 0 ? datum.label : ''","labelPadding":12,"title":"Intensity (a.u.)","titlePadding":8}}}}
]}
]
}
